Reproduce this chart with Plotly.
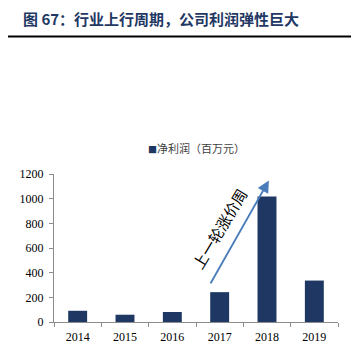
import plotly.graph_objects as go

years = ["2014", "2015", "2016", "2017", "2018", "2019"]
net_profit = [91, 59, 81, 242, 1017, 336]
series_name = "净利润（百万元）"
title_text = "图 67：行业上行周期，公司利润弹性巨大"
arrow_label = "上一轮涨价周"
y_ticks = [0, 200, 400, 600, 800, 1000, 1200]

bar_color = "#1F3763"
arrow_color = "#4A7EBB"
axis_color = "#8C8C8C"

# page has an 8px body margin, so the figure is drawn 8px smaller
W = H = 351

fig = go.Figure()
fig.add_trace(go.Bar(
    x=years, y=net_profit, name=series_name,
    marker=dict(color=bar_color, line=dict(width=0)),
    width=0.4, showlegend=False,
))

fig.update_layout(
    width=W, height=H,
    margin=dict(l=46, r=21, t=166, b=37),
    paper_bgcolor="white", plot_bgcolor="white",
    xaxis=dict(
        type="category", showline=True, linecolor=axis_color, linewidth=1,
        ticks="outside", tickson="boundaries", ticklen=4, tickcolor=axis_color,
        tickfont=dict(family="Liberation Serif", size=12, color="black"),
        ticklabelstandoff=4,
        showgrid=False, zeroline=False,
    ),
    yaxis=dict(
        range=[0, 1200], tickvals=y_ticks, showline=True, linecolor=axis_color,
        linewidth=1, ticks="outside", ticklen=4, tickcolor=axis_color,
        tickfont=dict(family="Liberation Serif", size=12, color="black"),
        ticklabelstandoff=3,
        showgrid=False, zeroline=False,
    ),
)

# title
fig.add_annotation(
    xref="paper", yref="paper", x=0.375, y=2.054, xanchor="center", yanchor="middle",
    showarrow=False, text="<b>" + title_text + "</b>",
    font=dict(family="Noto Sans CJK SC", size=15, color="#1F3864"),
)

# legend (square marker + series name)
fig.add_annotation(
    xref="paper", yref="paper", x=0.502, y=1.173, xanchor="center", yanchor="middle",
    showarrow=False,
    text="<span style='color:" + bar_color + ";font-size:9px'>■</span>" + series_name,
    font=dict(family="Noto Sans CJK SC", size=11, color="#404040"),
)

# header rule
fig.add_shape(type="line", xref="paper", yref="paper",
              x0=-0.17, x1=1.059, y0=1.929, y1=1.929,
              line=dict(color="black", width=2))

# arrow
fig.add_annotation(x=4.04, y=1148, ax=2.79, ay=301, xref="x", yref="y",
                   axref="x", ayref="y", showarrow=True, text="",
                   arrowhead=2, arrowsize=1.2, arrowwidth=2, arrowcolor=arrow_color)
fig.add_annotation(x=2.99, y=760, xref="x", yref="y", text=arrow_label,
                   showarrow=False, textangle=-59,
                   font=dict(family="Noto Sans CJK SC", size=15, color="black"))

fig.write_html("out.html")
